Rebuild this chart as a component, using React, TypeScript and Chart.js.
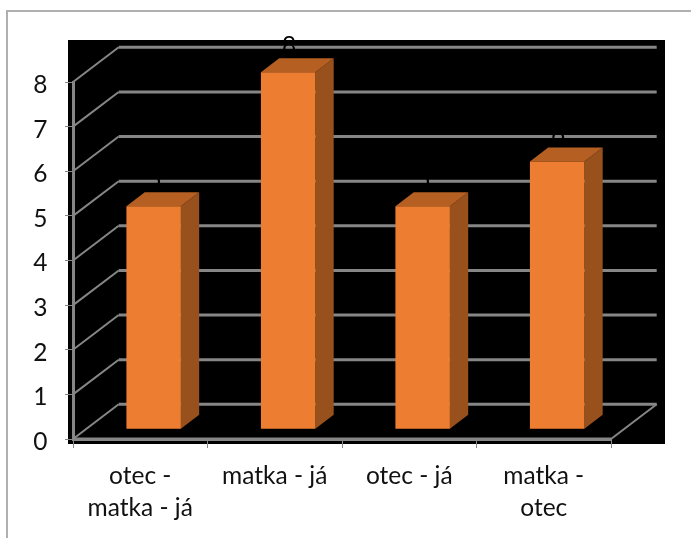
import React, { useEffect, useRef } from "react";
import { Chart, registerables } from "chart.js";

Chart.register(...registerables);

const categories: string[][] = [["otec -", "matka - já"], ["matka - já"], ["otec - já"], ["matka -", "otec"]];
const values: number[] = [5, 8, 5, 6];
const dataLabels: string[] = ["5", "8", "5", "6"];

const W = 691;
const H = 538;
const GRID = "#868686";
const FONT = "Lato";
const FONT_SIZE = 24.5;
const wallDx = 45.7;
const wallDy = 34.7;
const barShiftX = 13.4;
const barShiftY = 9.7;
const depthX = 18.3;
const depthY = 14;

const scene = {
  id: "scene",
  beforeDraw(chart: any) {
    const c = chart.ctx;
    c.save();
    c.fillStyle = "#fff";
    c.fillRect(0, 0, W, H);
    c.fillStyle = "#000";
    c.fillRect(68, 40, 597, 404);
    c.strokeStyle = "#b0b0b0";
    c.lineWidth = 2;
    c.beginPath();
    c.moveTo(7, H);
    c.lineTo(7, 11);
    c.lineTo(W, 11);
    c.stroke();
    c.restore();
  },
  beforeDatasetsDraw(chart: any) {
    const c = chart.ctx;
    const { x: sx, y: sy } = chart.scales;
    const l = chart.chartArea.left;
    const r = chart.chartArea.right;
    c.save();
    c.strokeStyle = GRID;
    sy.ticks.forEach((t: any) => {
      const y = sy.getPixelForValue(t.value);
      c.lineWidth = 2;
      c.beginPath();
      c.moveTo(l, y);
      c.lineTo(l + wallDx, y - wallDy);
      c.stroke();
      c.lineWidth = 3;
      c.beginPath();
      c.moveTo(l + wallDx, y - wallDy);
      c.lineTo(r + wallDx, y - wallDy);
      c.stroke();
      // y tick labels sit a little below their ticks in the source
      c.fillStyle = "#111";
      c.font = `${FONT_SIZE}px ${FONT}`;
      c.textAlign = "right";
      c.textBaseline = "middle";
      c.fillText(String(t.value), 47.5, y + 3);
    });
    const y0 = sy.getPixelForValue(0);
    c.lineWidth = 2;
    c.beginPath();
    c.moveTo(r, y0);
    c.lineTo(r + wallDx, y0 - wallDy);
    c.stroke();
    c.lineWidth = 3;
    c.beginPath();
    c.moveTo(l, y0);
    c.lineTo(r, y0);
    c.stroke();

    // value labels: black text, as in the source nearly lost on the black ground
    c.fillStyle = "#000";
    c.font = `${FONT_SIZE}px ${FONT}`;
    c.textAlign = "center";
    c.textBaseline = "middle";
    values.forEach((v, i) => {
      c.fillText(dataLabels[i], sx.getPixelForValue(i) + barShiftX + 1, sy.getPixelForValue(v) - barShiftY - 26);
    });
    c.restore();

    c.save();
    c.translate(barShiftX, -barShiftY);
    const meta = chart.getDatasetMeta(0);
    meta.data.forEach((b: any) => {
      const left = b.x - b.width / 2;
      const right = b.x + b.width / 2;
      c.fillStyle = "#98501D";
      c.beginPath();
      c.moveTo(right, b.y);
      c.lineTo(right + depthX, b.y - depthY);
      c.lineTo(right + depthX, b.base - depthY);
      c.lineTo(right, b.base);
      c.closePath();
      c.fill();
      c.fillStyle = "#B65F22";
      c.beginPath();
      c.moveTo(left, b.y);
      c.lineTo(left + depthX, b.y - depthY);
      c.lineTo(right + depthX, b.y - depthY);
      c.lineTo(right, b.y);
      c.closePath();
      c.fill();
    });
  },
  afterDatasetsDraw(chart: any) {
    chart.ctx.restore();
  },
};

export default function App() {
  const ref = useRef<HTMLCanvasElement | null>(null);
  useEffect(() => {
    const chart = new Chart(ref.current as HTMLCanvasElement, {
      type: "bar",
      data: {
        labels: categories,
        datasets: [
          {
            data: values,
            backgroundColor: "#ED7D31",
            borderWidth: 0,
            barPercentage: 0.405,
            categoryPercentage: 1,
            clip: false,
          } as any,
        ],
      },
      options: {
        responsive: false,
        animation: false,
        devicePixelRatio: 1,
        layout: { padding: { top: 82, right: 80, left: 0, bottom: 0 } },
        plugins: { legend: { display: false }, title: { display: false }, tooltip: { enabled: false } },
        scales: {
          x: {
            afterFit: (s: any) => {
              s.height = 99;
            },
            grid: { drawOnChartArea: false, color: GRID, tickLength: 9, tickWidth: 1 },
            border: { color: GRID, width: 3 },
            ticks: {
              color: "#111",
              font: { family: FONT, size: FONT_SIZE, lineHeight: 1.31 },
              padding: 12,
              maxRotation: 0,
              autoSkip: false,
            },
          },
          y: {
            min: 0,
            max: 8,
            afterFit: (s: any) => {
              s.width = 73;
            },
            grid: { drawOnChartArea: false, color: GRID, tickLength: 8, tickWidth: 1 },
            border: { color: GRID, width: 3 },
            ticks: { stepSize: 1, display: false },
          },
        },
      },
      plugins: [scene],
    } as any);
    return () => chart.destroy();
  }, []);
  return (
    <div style={{ position: "absolute", left: 0, top: 0, width: W, height: H }}>
      <canvas ref={ref} width={W} height={H} style={{ display: "block" }} />
    </div>
  );
}
